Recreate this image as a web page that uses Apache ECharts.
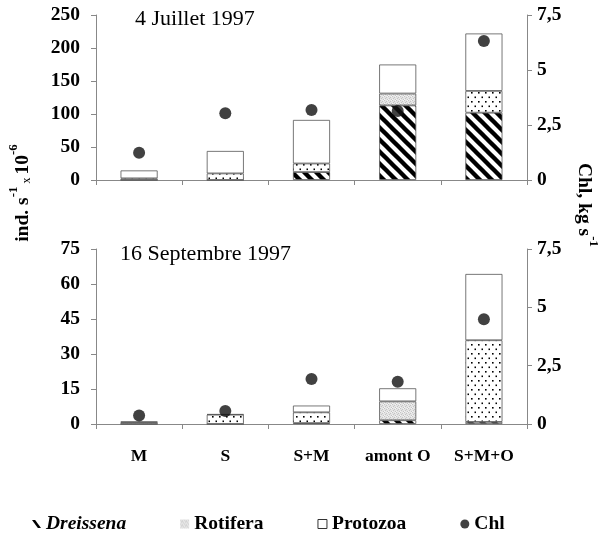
<!DOCTYPE html>
<html>
<head>
<meta charset="utf-8">
<script src="https://cdn.jsdelivr.net/npm/echarts@6/dist/echarts.min.js"></script>
<style>
html,body{margin:0;padding:0;background:#fff;}
#main{width:603px;height:542px;}
</style>
</head>
<body>
<div id="main"></div>
<script>
// ---- data ----
var categories = ['M', 'S', 'S+M', 'amont O', 'S+M+O'];
var julDreissena = [0, 0, 12, 113, 102];
var julRotifera  = [2.5, 10, 13, 18, 33];
var julProtozoa  = [12, 34, 66, 44, 87];
var julChl       = [1.24, 3.03, 3.18, 3.14, 6.32];
var sepDreissena = [0, 0, 0.4, 1.6, 0.9];
var sepRotifera  = [0.8, 4, 4.6, 8.1, 35];
var sepProtozoa  = [0.2, 0.2, 2.9, 5.6, 28.4];
var sepChl       = [0.36, 0.56, 1.93, 1.81, 4.49];
var leftTicksTop = [0, 50, 100, 150, 200, 250];
var leftTicksBot = [0, 15, 30, 45, 60, 75];
var rightTicks = ['0', '2,5', '5', '7,5'];
var titleTop = '4 Juillet 1997';
var titleBot = '16 Septembre 1997';

// ---- patterns ----
function makeStripe() {
  var s = 12, c = document.createElement('canvas');
  c.width = s; c.height = s;
  var g = c.getContext('2d');
  g.fillStyle = '#fff'; g.fillRect(0, 0, s, s);
  g.strokeStyle = '#000'; g.lineWidth = 4.4;
  for (var k = -1; k <= 1; k++) {
    g.beginPath();
    g.moveTo(k * s - 2, -2);
    g.lineTo(k * s + s + 2, s + 2);
    g.stroke();
  }
  return c;
}
function makeDots() {
  var w = 7, h = 9, c = document.createElement('canvas');
  c.width = w; c.height = h;
  var g = c.getContext('2d');
  g.fillStyle = '#fff'; g.fillRect(0, 0, w, h);
  g.fillStyle = '#000';
  g.fillRect(2, 2, 1.6, 1.6);
  g.fillRect(5.5, 6.5, 1.6, 1.6);
  return c;
}
function makeSpeckle() {
  var s = 4, c = document.createElement('canvas');
  c.width = s; c.height = s;
  var g = c.getContext('2d');
  g.fillStyle = '#e4e4e4'; g.fillRect(0, 0, s, s);
  g.fillStyle = '#c4c4c4';
  g.fillRect(0, 0, 1, 1); g.fillRect(2, 1, 1, 1); g.fillRect(1, 2, 1, 1); g.fillRect(3, 3, 1, 1);
  g.fillStyle = '#f4f4f4';
  g.fillRect(3, 0, 1, 1); g.fillRect(0, 3, 1, 1);
  return c;
}
var stripe = {image: makeStripe(), repeat: 'repeat'};
var dots = {image: makeDots(), repeat: 'repeat'};
var speckle = {image: makeSpeckle(), repeat: 'repeat'};

var border = {borderColor: '#555', borderWidth: 0.8};

function rotData(vals, speckleIdx) {
  return vals.map(function (v, i) {
    return {value: v, itemStyle: {color: speckleIdx.indexOf(i) >= 0 ? speckle : dots}};
  });
}

var FONT = '"Liberation Serif", "Times New Roman", serif';
var axisLine = {show: true, lineStyle: {color: '#888', width: 1}};
var tickLbl = {fontFamily: FONT, fontWeight: 'bold', fontSize: 19.5, color: '#000'};

function xAxis(gi, showLabel) {
  return {
    type: 'category', gridIndex: gi, data: categories, boundaryGap: true,
    axisLine: axisLine,
    axisTick: {show: true, length: 5, interval: 0, lineStyle: {color: '#888'}},
    axisLabel: {show: showLabel, interval: 0, margin: 23, fontFamily: FONT, fontWeight: 'bold', fontSize: 17.5, color: '#000'},
    splitLine: {show: false}
  };
}
function yLeft(gi, ticks) {
  return {
    type: 'value', gridIndex: gi, min: ticks[0], max: ticks[ticks.length - 1],
    interval: ticks[1] - ticks[0],
    axisLine: axisLine,
    axisTick: {show: true, length: 5, lineStyle: {color: '#888'}},
    axisLabel: Object.assign({margin: 16}, tickLbl),
    splitLine: {show: false}
  };
}
function yRight(gi) {
  return {
    type: 'value', gridIndex: gi, position: 'right', min: 0, max: 7.5, interval: 2.5,
    axisLine: axisLine,
    axisTick: {show: true, length: 5, lineStyle: {color: '#888'}},
    axisLabel: Object.assign({margin: 10, formatter: function (v) {
      return rightTicks[Math.round(v / 2.5)];
    }}, tickLbl),
    splitLine: {show: false}
  };
}

var chart = echarts.init(document.getElementById('main'), null, {renderer: 'canvas'});
var option = {
  animation: false,
  backgroundColor: '#fff',
  grid: [
    {left: 96, right: 76, top: 15, height: 165},
    {left: 96, right: 76, top: 249, height: 175}
  ],
  xAxis: [xAxis(0, false), xAxis(1, true)],
  yAxis: [yLeft(0, leftTicksTop), yRight(0), yLeft(1, leftTicksBot), yRight(1)],
  legend: {
    left: 27, top: 509, itemWidth: 9, itemHeight: 9, itemGap: 54,
    selectedMode: false,
    textStyle: {fontFamily: FONT, fontWeight: 'bold', fontSize: 19.5, color: '#000',
      rich: {i: {fontFamily: FONT, fontWeight: 'bold', fontStyle: 'italic', fontSize: 19.5, color: '#000'}}},
    formatter: function (n) { return n === 'Dreissena' ? '{i|Dreissena}' : n; },
    data: [
      {name: 'Dreissena', icon: 'path://M0,0 L3.5,0 L10,9 L6.5,9 Z', itemStyle: {color: '#000', borderWidth: 0}},
      {name: 'Rotifera', icon: 'rect', itemStyle: {color: speckle, borderWidth: 0}},
      {name: 'Protozoa', icon: 'rect', itemStyle: {color: '#fff', borderColor: '#333', borderWidth: 1}},
      {name: 'Chl', icon: 'circle', itemStyle: {color: '#111', borderWidth: 0}}
    ]
  },
  graphic: [
    {type: 'text', left: 135, top: 8, style: {text: titleTop, font: '22px ' + FONT, fill: '#000'}},
    {type: 'text', left: 120, top: 243, style: {text: titleBot, font: '22px ' + FONT, fill: '#000'}},
    {type: 'text', x: 20, y: 193, rotation: Math.PI / 2,
      style: {text: '{m|ind. s}{s|-1}{x| x }{m|10}{s|-6}', align: 'center', verticalAlign: 'middle',
        rich: {
          m: {fontFamily: FONT, fontWeight: 'bold', fontSize: 19.5, fill: '#000', verticalAlign: 'bottom', lineHeight: 26},
          s: {fontFamily: FONT, fontWeight: 'bold', fontSize: 13, fill: '#000', verticalAlign: 'top', lineHeight: 26},
          x: {fontFamily: FONT, fontSize: 12, fill: '#000', verticalAlign: 'bottom', lineHeight: 26}
        }}},
    {type: 'text', x: 587, y: 205, rotation: -Math.PI / 2,
      style: {text: '{m|Chl, kg s}{s|-1}', align: 'center', verticalAlign: 'middle',
        rich: {
          m: {fontFamily: FONT, fontWeight: 'bold', fontSize: 19.5, fill: '#000', verticalAlign: 'bottom', lineHeight: 26},
          s: {fontFamily: FONT, fontWeight: 'bold', fontSize: 13, fill: '#000', verticalAlign: 'top', lineHeight: 26}
        }}}
  ],
  series: [
    {name: 'Dreissena', type: 'bar', xAxisIndex: 0, yAxisIndex: 0, stack: 'jul', barWidth: '43%',
      itemStyle: Object.assign({color: stripe}, border), data: julDreissena},
    {name: 'Rotifera', type: 'bar', xAxisIndex: 0, yAxisIndex: 0, stack: 'jul',
      itemStyle: Object.assign({color: dots}, border), data: rotData(julRotifera, [3])},
    {name: 'Protozoa', type: 'bar', xAxisIndex: 0, yAxisIndex: 0, stack: 'jul',
      itemStyle: Object.assign({color: '#fff'}, border), data: julProtozoa},
    {name: 'Chl', type: 'scatter', xAxisIndex: 0, yAxisIndex: 1, symbolSize: 12,
      itemStyle: {color: '#111'}, data: julChl, z: 5},
    {name: 'Dreissena', type: 'bar', xAxisIndex: 1, yAxisIndex: 2, stack: 'sep', barWidth: '43%',
      itemStyle: Object.assign({color: stripe}, border), data: sepDreissena},
    {name: 'Rotifera', type: 'bar', xAxisIndex: 1, yAxisIndex: 2, stack: 'sep',
      itemStyle: Object.assign({color: dots}, border), data: rotData(sepRotifera, [0, 3])},
    {name: 'Protozoa', type: 'bar', xAxisIndex: 1, yAxisIndex: 2, stack: 'sep',
      itemStyle: Object.assign({color: '#fff'}, border), data: sepProtozoa},
    {name: 'Chl', type: 'scatter', xAxisIndex: 1, yAxisIndex: 3, symbolSize: 12,
      itemStyle: {color: '#111'}, data: sepChl, z: 5}
  ]
};
chart.setOption(option);
</script>
</body>
</html>
